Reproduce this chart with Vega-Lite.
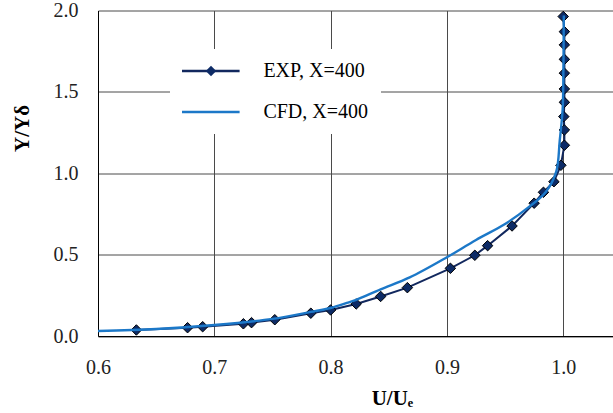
{
  "$schema": "https://vega.github.io/schema/vega-lite/v6.json",
  "width": 515,
  "height": 325.5,
  "autosize": {"type": "none"},
  "padding": {"left": 98, "top": 10.5, "right": 0, "bottom": 77},
  "background": "white",
  "config": {"view": {"stroke": null}, "font": "Liberation Serif"},
  "data": {
    "values": [
      {"series": "EXP, X=400", "u": 0.633, "y": 0.037},
      {"series": "EXP, X=400", "u": 0.677, "y": 0.051},
      {"series": "EXP, X=400", "u": 0.690, "y": 0.057},
      {"series": "EXP, X=400", "u": 0.725, "y": 0.075},
      {"series": "EXP, X=400", "u": 0.732, "y": 0.082},
      {"series": "EXP, X=400", "u": 0.752, "y": 0.100},
      {"series": "EXP, X=400", "u": 0.783, "y": 0.140},
      {"series": "EXP, X=400", "u": 0.800, "y": 0.160},
      {"series": "EXP, X=400", "u": 0.822, "y": 0.197},
      {"series": "EXP, X=400", "u": 0.843, "y": 0.243},
      {"series": "EXP, X=400", "u": 0.866, "y": 0.297},
      {"series": "EXP, X=400", "u": 0.903, "y": 0.416},
      {"series": "EXP, X=400", "u": 0.924, "y": 0.496},
      {"series": "EXP, X=400", "u": 0.935, "y": 0.555},
      {"series": "EXP, X=400", "u": 0.956, "y": 0.676},
      {"series": "EXP, X=400", "u": 0.975, "y": 0.816},
      {"series": "EXP, X=400", "u": 0.983, "y": 0.883},
      {"series": "EXP, X=400", "u": 0.992, "y": 0.948},
      {"series": "EXP, X=400", "u": 0.998, "y": 1.049},
      {"series": "EXP, X=400", "u": 1.001, "y": 1.172},
      {"series": "EXP, X=400", "u": 1.001, "y": 1.266},
      {"series": "EXP, X=400", "u": 1.0005, "y": 1.348},
      {"series": "EXP, X=400", "u": 1.001, "y": 1.436},
      {"series": "EXP, X=400", "u": 1.001, "y": 1.518},
      {"series": "EXP, X=400", "u": 1.001, "y": 1.615},
      {"series": "EXP, X=400", "u": 1.001, "y": 1.700},
      {"series": "EXP, X=400", "u": 1.001, "y": 1.789},
      {"series": "EXP, X=400", "u": 1.001, "y": 1.870},
      {"series": "EXP, X=400", "u": 1.000, "y": 1.963},
      {"series": "CFD, X=400", "u": 0.600, "y": 0.031},
      {"series": "CFD, X=400", "u": 0.650, "y": 0.043},
      {"series": "CFD, X=400", "u": 0.700, "y": 0.068},
      {"series": "CFD, X=400", "u": 0.750, "y": 0.105},
      {"series": "CFD, X=400", "u": 0.783, "y": 0.148},
      {"series": "CFD, X=400", "u": 0.800, "y": 0.172},
      {"series": "CFD, X=400", "u": 0.814, "y": 0.203},
      {"series": "CFD, X=400", "u": 0.822, "y": 0.222},
      {"series": "CFD, X=400", "u": 0.843, "y": 0.287},
      {"series": "CFD, X=400", "u": 0.868, "y": 0.360},
      {"series": "CFD, X=400", "u": 0.900, "y": 0.484},
      {"series": "CFD, X=400", "u": 0.925, "y": 0.590},
      {"series": "CFD, X=400", "u": 0.950, "y": 0.688},
      {"series": "CFD, X=400", "u": 0.970, "y": 0.790},
      {"series": "CFD, X=400", "u": 0.985, "y": 0.885},
      {"series": "CFD, X=400", "u": 0.994, "y": 1.010},
      {"series": "CFD, X=400", "u": 0.997, "y": 1.200},
      {"series": "CFD, X=400", "u": 0.9995, "y": 1.390},
      {"series": "CFD, X=400", "u": 1.000, "y": 1.520},
      {"series": "CFD, X=400", "u": 1.0005, "y": 1.970}
    ]
  },
  "encoding": {
    "x": {
      "field": "u",
      "type": "quantitative",
      "scale": {"domain": [0.6, 1.0428], "nice": false, "zero": false},
      "axis": {
        "values": [0.6, 0.7, 0.8, 0.9, 1.0],
        "format": ".1f",
        "grid": true,
        "title": "U/Uₑ",
        "titleFont": "Liberation Serif",
        "titleFontSize": 21,
        "titleFontWeight": "bold",
        "titleColor": "#000",
        "titleX": 294,
        "titleY": 68,
        "titleAlign": "center",
        "titleBaseline": "alphabetic",
        "labelFont": "Liberation Serif",
        "labelFontSize": 20,
        "labelColor": "#222",
        "labelPadding": 21,
        "labelFlush": false,
        "labelOverlap": false,
        "ticks": false,
        "tickSize": 0,
        "domainColor": "#000",
        "domainWidth": 1,
        "gridColor": "#4a4a4a",
        "gridWidth": 1
      }
    },
    "y": {
      "field": "y",
      "type": "quantitative",
      "scale": {"domain": [0, 2], "nice": false, "zero": false},
      "axis": {
        "values": [0, 0.5, 1, 1.5, 2],
        "format": ".1f",
        "grid": true,
        "title": "Y/Yδ",
        "titleFont": "Liberation Serif",
        "titleFontSize": 21,
        "titleFontWeight": "bold",
        "titleColor": "#000",
        "titleX": -70,
        "titleY": 117.5,
        "titleAngle": -90,
        "titleAlign": "center",
        "titleBaseline": "alphabetic",
        "labelFont": "Liberation Serif",
        "labelFontSize": 20,
        "labelColor": "#222",
        "labelPadding": 20,
        "labelFlush": false,
        "labelOverlap": false,
        "ticks": false,
        "tickSize": 0,
        "domainColor": "#000",
        "domainWidth": 1,
        "gridColor": "#4a4a4a",
        "gridWidth": 1
      }
    }
  },
  "layer": [
    {
      "transform": [{"filter": "datum.series === 'EXP, X=400'"}],
      "mark": {"type": "line", "strokeWidth": 2, "clip": true},
      "encoding": {
        "color": {
          "field": "series",
          "type": "nominal",
          "scale": {"domain": ["EXP, X=400", "CFD, X=400"], "range": ["#12285e", "#1c78c8"]},
          "legend": {
            "title": null,
            "orient": "none",
            "legendX": 72,
            "legendY": 38.5,
            "padding": 12,
            "fillColor": "white",
            "symbolType": "M-3.6,0H3.6",
            "symbolSize": 256,
            "symbolStrokeWidth": 2.4,
            "symbolOffset": 18.8,
            "labelOffset": 42.6,
            "labelFont": "Liberation Serif",
            "labelFontSize": 20,
            "labelColor": "#000",
            "labelLimit": 300,
            "rowPadding": 21
          }
        },
        "order": {"field": "y", "type": "quantitative"}
      }
    },
    {
      "transform": [{"filter": "datum.series === 'EXP, X=400'"}],
      "mark": {"type": "point", "filled": true, "fill": "#0d2b66", "stroke": "#000", "strokeWidth": 1, "size": 110, "opacity": 1, "clip": true},
      "encoding": {
        "shape": {
          "field": "series",
          "type": "nominal",
          "scale": {"domain": ["EXP, X=400"], "range": ["diamond"]},
          "legend": {
            "title": null,
            "orient": "none",
            "legendX": 107,
            "legendY": 54.5,
            "padding": 0,
            "labelExpr": "''",
            "labelFontSize": 1,
            "symbolSize": 110,
            "symbolType": "diamond",
            "symbolFillColor": "#0d2b66",
            "symbolStrokeColor": "#000",
            "symbolStrokeWidth": 1,
            "zindex": 1
          }
        }
      }
    },
    {
      "transform": [{"filter": "datum.series === 'CFD, X=400'"}],
      "mark": {"type": "line", "strokeWidth": 2.4, "clip": true, "interpolate": "catmull-rom"},
      "encoding": {
        "color": {"field": "series", "type": "nominal"},
        "order": {"field": "y", "type": "quantitative"}
      }
    }
  ]
}
